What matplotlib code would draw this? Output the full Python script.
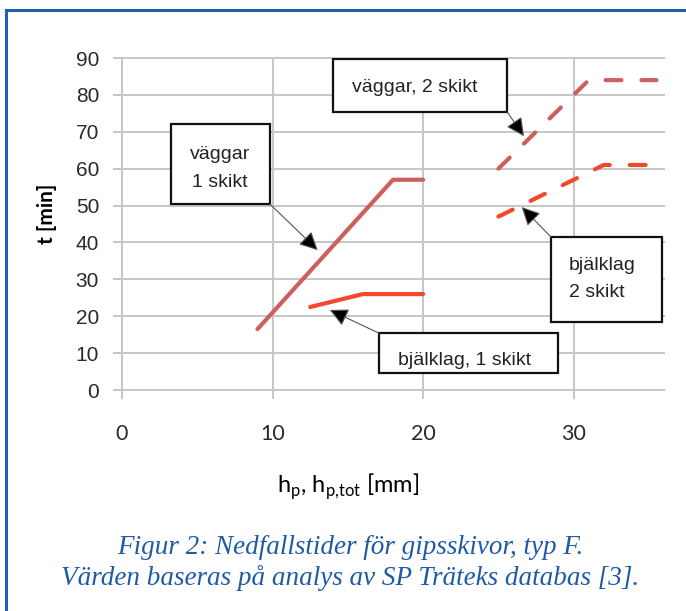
import matplotlib
matplotlib.use("Agg")
import matplotlib.pyplot as plt
from matplotlib.patches import Rectangle

# Data: thickness [mm] vs time [min]
vagg1_x = [9.0, 18.0, 20.0]
vagg1_y = [16.5, 57.0, 57.0]
bjalk1_x = [12.5, 16.0, 20.0]
bjalk1_y = [22.5, 26.0, 26.0]
vagg2_x = [25.0, 31.0, 35.5]
vagg2_y = [60.0, 84.0, 84.0]
bjalk2_x = [25.0, 32.0, 36.0]
bjalk2_y = [47.0, 61.0, 61.0]

xticks = [0, 10, 20, 30]
yticks = list(range(0, 91, 10))

col_vagg = '#cd5f5c'
col_bjalk = '#f2492e'
grid_col = '#c6c6c6'
box_font = ['Liberation Sans', 'DejaVu Sans']

fig = plt.figure(figsize=(6.86, 6.11), dpi=100)
ax = fig.add_axes([122/686, 1 - 390/611, 542/686, 332/611])

ax.plot(vagg1_x, vagg1_y, color=col_vagg, lw=3, solid_capstyle='round')
ax.plot(bjalk1_x, bjalk1_y, color=col_bjalk, lw=3, solid_capstyle='round')
ax.plot(vagg2_x, vagg2_y, color=col_vagg, lw=3, linestyle=(0, (3.8, 4.8)),
        dash_capstyle='round')
ax.plot(bjalk2_x, bjalk2_y, color=col_bjalk, lw=3, linestyle=(0, (3.8, 4.8)),
        dash_capstyle='round')

ax.set_xlim(0, 36)
ax.set_ylim(0, 90)
ax.set_xticks(xticks)
ax.set_yticks(yticks)
ax.grid(True, color=grid_col, lw=1.4)
ax.set_axisbelow(True)
for gl in ax.get_xgridlines() + ax.get_ygridlines():
    gl.set_clip_on(False)
for s in ['top', 'right']:
    ax.spines[s].set_visible(False)
for s in ['left', 'bottom']:
    ax.spines[s].set_color(grid_col)
    ax.spines[s].set_linewidth(1.4)
ax.tick_params(axis='both', color=grid_col, width=1.4, length=6.5)
ax.tick_params(axis='y', pad=10, labelsize=15, labelcolor='#2a2a2a')
ax.tick_params(axis='x', pad=18, labelsize=15.5, labelcolor='#2a2a2a')
for lab in ax.get_yticklabels():
    lab.set_fontfamily('Liberation Sans')
for lab in ax.get_xticklabels():
    lab.set_fontfamily('Lato')

ax.set_ylabel('t [min]', fontsize=15, fontweight='bold', family='Lato')
ax.yaxis.set_label_coords(-0.12, 0.53)
ax.set_xlabel(r'h$_\mathregular{p}$, h$_\mathregular{p{,}tot}$ [mm]',
              fontsize=17, family='Lato')
ax.xaxis.set_label_coords(0.417, -0.245)

# label boxes (data coords)
boxes = [(3.25, 50.4, 6.58, 21.7), (14.0, 75.3, 11.6, 14.4),
         (17.07, 4.6, 11.88, 10.8), (28.49, 18.4, 7.37, 23.1)]
for bx, by, bw, bh in boxes:
    ax.add_patch(Rectangle((bx, by), bw, bh, facecolor='white',
                           edgecolor='#111111', lw=1.6, zorder=4))

tkw = dict(fontsize=14, family=box_font, color='#222222', va='baseline',
           zorder=5)
ax.text(6.5, 62.6, 'väggar', ha='center', **tkw)
ax.text(6.5, 55.0, '1 skikt', ha='center', **tkw)
ax.text(15.27, 80.8, 'väggar, 2 skikt', ha='left', **tkw)
ax.text(18.33, 6.8, 'bjälklag, 1 skikt', ha='left', **tkw)
ax.text(29.68, 32.5, 'bjälklag', ha='left', **tkw)
ax.text(29.68, 25.2, '2 skikt', ha='left', **tkw)

arrows = [((9.83, 50.4), (13.0, 37.9)), ((25.6, 75.3), (26.7, 68.8)),
          ((17.07, 15.4), (13.8, 21.7)), ((28.49, 41.5), (26.55, 49.6))]
for start, tip in arrows:
    ax.annotate('', xy=tip, xytext=start,
                arrowprops=dict(arrowstyle='-|>', fc='black', ec='#555555',
                                lw=0.8, mutation_scale=28, shrinkA=0,
                                shrinkB=0), zorder=5)

# caption
cap = dict(fontsize=19.5, family='Liberation Serif', style='italic',
           color='#1f5aa6', ha='center', va='center')
fig.text(350/686, 1 - 548/611, 'Figur 2: Nedfallstider för gipsskivor, typ F.', **cap)
fig.text(350/686, 1 - 578/611, 'Värden baseras på analys av SP Träteks databas [3].', **cap)

# blue frame, running off the right and bottom edges
fig.patches.append(Rectangle((5.5/686, -0.1), 1.2, 1.1 - 9.5/611,
                             transform=fig.transFigure, fill=False,
                             edgecolor='#1f5fb0', lw=2.2))

fig.savefig('out.png', dpi=100)
